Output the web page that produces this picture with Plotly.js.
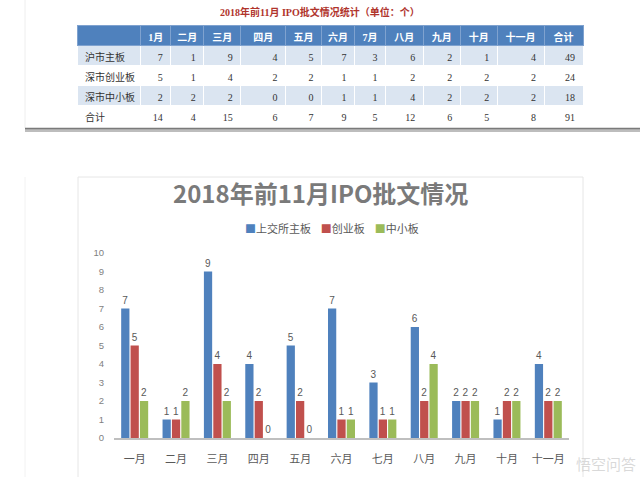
<!DOCTYPE html>
<html>
<head>
<meta charset="utf-8">
<script src="https://cdn.plot.ly/plotly-3.0.1.min.js"></script>
<style>html,body{margin:0;padding:0;background:#fff;}#chart{width:640px;height:477px;}</style>
</head>
<body>
<div id="chart"></div>
<script>
// ---- Table data ----
const tableTitle = '2018年前11月 IPO批文情况统计（单位：个）';
const tableHeaders = ['', '1月', '二月', '三月', '四月', '五月', '六月', '7月', '八月', '九月', '十月', '十一月', '合计'];
const rowLabels = ['沪市主板', '深市创业板', '深市中小板', '合计'];
const shMain = [7, 1, 9, 4, 5, 7, 3, 6, 2, 1, 4];
const szGem = [5, 1, 4, 2, 2, 1, 1, 2, 2, 2, 2];
const szSme = [2, 2, 2, 0, 0, 1, 1, 4, 2, 2, 2];
const monthTotals = [14, 4, 15, 6, 7, 9, 5, 12, 6, 5, 8];
const rowTotals = [49, 24, 18, 91];

// ---- Chart data ----
const chartTitle = '2018年前11月IPO批文情况';
const months = ['一月', '二月', '三月', '四月', '五月', '六月', '七月', '八月', '九月', '十月', '十一月'];
const seriesNames = ['上交所主板', '创业板', '中小板'];
const seriesValues = [shMain, szGem, szSme];
const seriesColors = ['#4f81bd', '#c0504d', '#9bbb59'];

// build table columns
const rowsData = [shMain, szGem, szSme, monthTotals];
const columns = [rowLabels];
for (let c = 0; c < months.length; c++) {
  columns.push(rowsData.map(r => String(r[c])));
}
columns.push(rowTotals.map(String));
const rowFill = ['#dbe5f1', '#ffffff', '#dbe5f1', '#ffffff'];

const tableTrace = {
  type: 'table',
  domain: {x: [77 / 640, 584 / 640], y: [1 - 128 / 477, 1 - 25 / 477]},
  columnwidth: [64, 30, 33, 37, 45, 36, 33, 31, 38, 37, 37, 47, 39],
  header: {
    values: tableHeaders,
    fill: {color: '#4f81bd'},
    line: {color: '#7fa2cf', width: 1},
    align: 'center',
    height: 20,
    font: {family: 'Liberation Serif, Noto Sans CJK SC', size: 10, color: '#ffffff', weight: 'bold'}
  },
  cells: {
    values: columns,
    fill: {color: columns.map(() => rowFill)},
    line: {color: '#ffffff', width: 1},
    align: columns.map((_, i) => i === 0 ? 'left' : 'right'),
    height: 20,
    font: {family: 'Liberation Serif, Noto Sans CJK SC', size: 10, color: '#333333'}
  }
};

const barTraces = seriesNames.map((name, i) => ({
  type: 'bar',
  name: name,
  x: months,
  y: seriesValues[i],
  marker: {color: seriesColors[i]},
  text: seriesValues[i].map(String),
  textposition: 'outside',
  constraintext: 'none',
  cliponaxis: false,
  textfont: {family: 'Liberation Sans, Noto Sans CJK SC', size: 10, color: '#595959'},
  xaxis: 'x',
  yaxis: 'y'
}));

// custom compact legend text built from series names/colors
const legendText = seriesNames.map((n, i) =>
  '<span style="color:' + seriesColors[i] + '">■</span>' + n).join('&nbsp;&nbsp;&nbsp;&nbsp;');

const layout = {
  width: 640,
  height: 477,
  margin: {l: 0, r: 0, t: 0, b: 0},
  paper_bgcolor: '#ffffff',
  plot_bgcolor: 'rgba(0,0,0,0)',
  showlegend: false,
  barmode: 'group',
  bargap: 0.32,
  bargroupgap: 0.12,
  font: {family: 'Noto Sans CJK SC, Liberation Sans', color: '#595959'},
  xaxis: {
    domain: [114 / 640, 569 / 640],
    anchor: 'y',
    showline: true,
    linecolor: '#bfbfbf',
    linewidth: 1.5,
    ticks: '',
    showgrid: false,
    zeroline: false,
    ticklabelstandoff: 10,
    tickfont: {size: 11, color: '#595959'},
    automargin: false
  },
  yaxis: {
    domain: [1 - 438 / 477, 1 - 253 / 477],
    anchor: 'x',
    range: [0, 10],
    dtick: 1,
    showgrid: false,
    zeroline: false,
    showline: false,
    ticks: '',
    ticklen: 0,
    ticklabelstandoff: 9,
    tickfont: {family: 'Liberation Sans', size: 9.5, color: '#7f7f7f'},
    automargin: false
  },
  annotations: [
    {
      text: tableTitle, xref: 'paper', yref: 'paper',
      x: 0.5, y: 1 - 12 / 477, xanchor: 'center', yanchor: 'middle',
      showarrow: false,
      font: {family: 'Liberation Serif, Noto Sans CJK SC', size: 10, color: '#b0342c', weight: 'bold'}
    },
    {
      text: chartTitle, xref: 'paper', yref: 'paper',
      x: 0.5, y: 1 - 192 / 477, xanchor: 'center', yanchor: 'middle',
      showarrow: false,
      font: {family: 'Noto Sans CJK SC, Liberation Sans', size: 24, color: '#7a7a7a', weight: 'bold'}
    },
    {
      text: legendText, xref: 'paper', yref: 'paper',
      x: 332 / 640, y: 1 - 228 / 477, xanchor: 'center', yanchor: 'middle',
      showarrow: false,
      font: {family: 'Noto Sans CJK SC, Liberation Sans', size: 11, color: '#595959'}
    },
    {
      text: '悟空问答', xref: 'paper', yref: 'paper',
      x: 606 / 640, y: 1 - 463 / 477, xanchor: 'center', yanchor: 'middle',
      showarrow: false,
      font: {family: 'Noto Sans CJK SC', size: 15, color: 'rgba(205,205,205,0.75)'}
    }
  ],
  shapes: [
    // table card edges
    {type: 'line', xref: 'paper', yref: 'paper', x0: 25 / 640, x1: 25 / 640, y0: 1 - 128 / 477, y1: 1, line: {color: '#eeeeee', width: 1}},
    // table card shadow
    {type: 'line', xref: 'paper', yref: 'paper', x0: 25 / 640, x1: 1, y0: 1 - 130.5 / 477, y1: 1 - 130.5 / 477, line: {color: '#bdbdbd', width: 3}},
    {type: 'line', xref: 'paper', yref: 'paper', x0: 25 / 640, x1: 1, y0: 1 - 128.5 / 477, y1: 1 - 128.5 / 477, line: {color: '#7a7a7a', width: 1.5}},
    // chart card border
    {type: 'rect', xref: 'paper', yref: 'paper', x0: 78 / 640, x1: 583 / 640, y0: -0.01, y1: 1 - 177 / 477, line: {color: '#e6e6e6', width: 1}, fillcolor: 'rgba(0,0,0,0)', layer: 'below'},
    {type: 'line', xref: 'paper', yref: 'paper', x0: 25 / 640, x1: 25 / 640, y0: 0, y1: 1 - 177 / 477, line: {color: '#f2f2f2', width: 1}}
  ]
};

Plotly.newPlot('chart', [tableTrace].concat(barTraces), layout, {staticPlot: true, displayModeBar: false});
</script>
</body>
</html>
